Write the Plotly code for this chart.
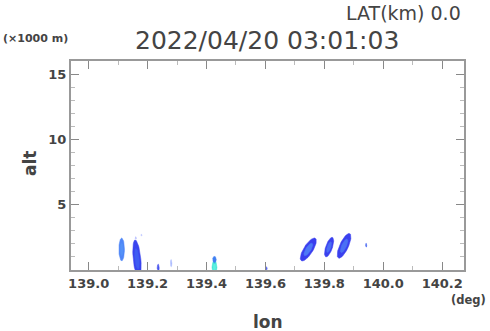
import numpy as np
import plotly.graph_objects as go

# Echo cells (lon at bottom/top, alt bottom/top in km, half width in deg)
cell_lon_bot = [139.112, 139.170, 139.236, 139.280, 139.427, 139.427, 139.604, 139.725, 139.806, 139.850, 139.942, 139.160, 139.179]
cell_lon_top = [139.112, 139.158, 139.236, 139.280, 139.427, 139.427, 139.604, 139.766, 139.826, 139.884, 139.942, 139.160, 139.179]
cell_alt_bot = [0.7, -0.6, -0.1, 0.25, -0.3, 0.55, 0.0, 0.69, 1.0, 0.9, 1.75, 2.35, 2.6]
cell_alt_top = [2.45, 2.3, 0.45, 0.8, 0.7, 1.05, 0.25, 2.45, 2.5, 2.8, 2.05, 2.55, 2.75]
cell_half_w = [0.0095, 0.013, 0.0035, 0.0025, 0.0085, 0.006, 0.002, 0.018, 0.012, 0.016, 0.002, 0.002, 0.002]
cell_color = ["#4f86f7", "#3a44ee", "#4a55ee", "#a8b8ff", "#44e6d6", "#3f7ff2", "#5060f0",
              "#3a3eee", "#3a40ee", "#3a40ee", "#4060f0", "#b0b8ff", "#c0c8ff"]
cell_core = ["#5592f8", "#3f5cf2", None, None, "#5ff0e0", None, None,
             "#4d78f6", "#4a6cf4", "#4a70f4", None, None, None]

x_ticks = [139.0, 139.2, 139.4, 139.6, 139.8, 140.0, 140.2]
y_ticks = [5, 10, 15]

fig = go.Figure()
t = np.linspace(0, 2 * np.pi, 60)
for lb, lt, ab, at, hw, col, core in zip(cell_lon_bot, cell_lon_top, cell_alt_bot, cell_alt_top,
                                         cell_half_w, cell_color, cell_core):
    yc, h = (ab + at) / 2, (at - ab) / 2
    xc, s = (lb + lt) / 2, (lt - lb) / 2
    for scale, c in ((1.0, col), (0.55, core)):
        if c is None:
            continue
        ys = yc + scale * h * np.sin(t)
        xs = xc + scale * (s * np.sin(t) + hw * np.cos(t))
        fig.add_trace(go.Scatter(x=xs, y=ys, mode="lines", fill="toself", fillcolor=c,
                                 line=dict(color=c, width=0.5), hoverinfo="skip", showlegend=False))

L, R, T, B = 71, 26, 61, 61
W, H = 490, 331
pw, ph = W - L - R, H - T - B


def px(x):
    return (x - L) / pw


def py(y):
    return (H - B - y) / ph


axis_common = dict(showline=True, linecolor="#999999", linewidth=2, mirror="allticks",
                   ticks="inside", ticklen=8, tickwidth=1, tickcolor="#888888",
                   showgrid=False, zeroline=False,
                   tickfont=dict(family="DejaVu Sans", size=13, color="#444444", weight="bold"))

fig.update_layout(
    width=W, height=H, margin=dict(l=L, r=R, t=T, b=B),
    paper_bgcolor="white", plot_bgcolor="white",
    xaxis=dict(range=[138.94, 140.274], tickvals=x_ticks, tickformat=".1f",
               minor=dict(dtick=0.1, tick0=139.0, ticks="inside", ticklen=4, tickcolor="#bbbbbb"),
               **axis_common),
    yaxis=dict(range=[0, 16], tickvals=y_ticks,
               minor=dict(dtick=1, tick0=0, ticks="inside", ticklen=4, tickcolor="#bbbbbb"),
               **axis_common),
    annotations=[
        dict(text="LAT(km) 0.0", x=px(463), y=py(13), xref="paper", yref="paper",
             xanchor="right", yanchor="middle", showarrow=False,
             font=dict(family="DejaVu Sans", size=19, color="#444444")),
        dict(text="2022/04/20 03:01:03", x=px(267), y=py(40), xref="paper", yref="paper",
             xanchor="center", yanchor="middle", showarrow=False,
             font=dict(family="DejaVu Sans", size=25, color="#444444")),
        dict(text="(×1000 m)", x=px(1), y=py(38), xref="paper", yref="paper",
             xanchor="left", yanchor="middle", showarrow=False,
             font=dict(family="DejaVu Sans", size=11, color="#444444", weight="bold")),
        dict(text="(deg)", x=px(488), y=py(300), xref="paper", yref="paper",
             xanchor="right", yanchor="middle", showarrow=False,
             font=dict(family="DejaVu Sans", size=11.5, color="#444444", weight="bold")),
        dict(text="lon", x=px(268), y=py(322), xref="paper", yref="paper",
             xanchor="center", yanchor="middle", showarrow=False,
             font=dict(family="DejaVu Sans", size=17, color="#444444", weight="bold")),
        dict(text="alt", x=px(30), y=py(164), xref="paper", yref="paper", textangle=-90,
             xanchor="center", yanchor="middle", showarrow=False,
             font=dict(family="DejaVu Sans", size=17, color="#444444", weight="bold")),
    ],
)

fig.write_html("out.html")
